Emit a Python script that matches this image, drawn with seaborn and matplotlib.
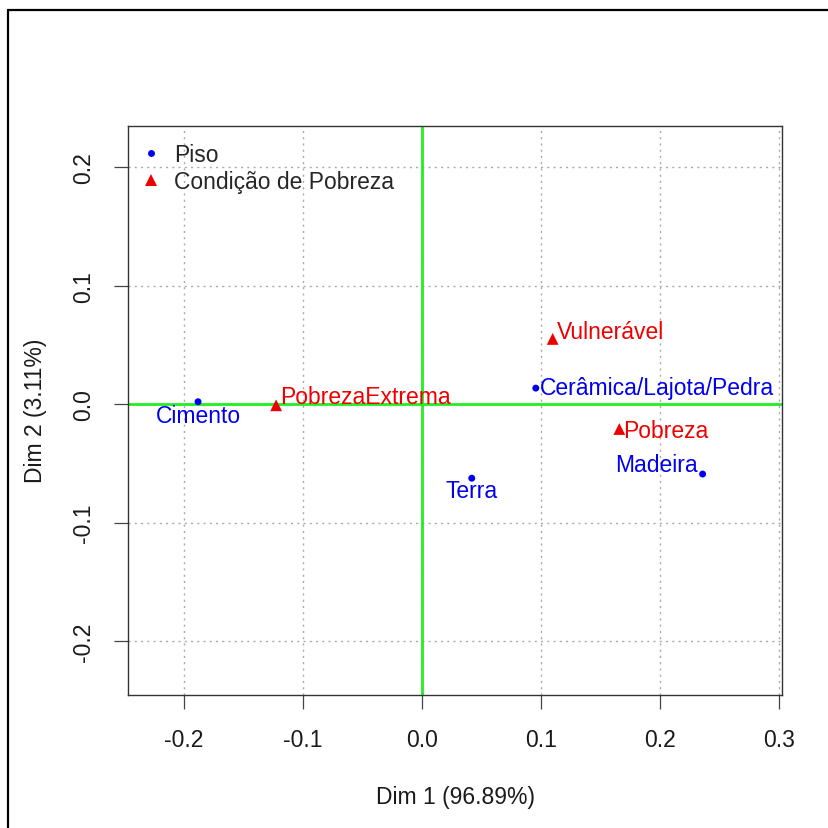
import matplotlib
matplotlib.use("Agg")
import matplotlib.pyplot as plt
import seaborn as sns
import pandas as pd
from matplotlib.lines import Line2D

# data
piso_names = ["Cimento", "Cerâmica/Lajota/Pedra", "Madeira", "Terra"]
piso_dim1 = [-0.188, 0.0958, 0.236, 0.042]
piso_dim2 = [0.002, 0.0135, -0.059, -0.0625]

pob_names = ["PobrezaExtrema", "Vulnerável", "Pobreza"]
pob_dim1 = [-0.1224, 0.110, 0.166]
pob_dim2 = [-0.001, 0.055, -0.021]

group_labels = ["Piso", "Condição de Pobreza"]
xticks = [-0.2, -0.1, 0.0, 0.1, 0.2, 0.3]
yticks = [-0.2, -0.1, 0.0, 0.1, 0.2]
xlabel = "Dim 1 (96.89%)"
ylabel = "Dim 2 (3.11%)"

df = pd.DataFrame({
    "name": piso_names + pob_names,
    "Dim1": piso_dim1 + pob_dim1,
    "Dim2": piso_dim2 + pob_dim2,
    "group": [group_labels[0]] * len(piso_names) + [group_labels[1]] * len(pob_names),
})

sns.set_style("white")
plt.rcParams['font.family'] = ['Liberation Sans', 'DejaVu Sans']

FS = 16.5
fig = plt.figure(figsize=(8.29, 8.29), dpi=100)
ax = fig.add_axes([0.1548, 0.161, 0.943 - 0.1548, 0.8472 - 0.161])

colors = {group_labels[0]: "#0000ee", group_labels[1]: "#ee0000"}

# grid
for t in xticks:
    ax.axvline(t, color="#aaaaaa", lw=1, ls=(0, (1.5, 3)), zorder=0)
for t in yticks:
    ax.axhline(t, color="#aaaaaa", lw=1, ls=(0, (1.5, 3)), zorder=0)
ax.axhline(0, color="#22ee22", lw=2, zorder=1)
ax.axvline(0, color="#22ee22", lw=2, zorder=1)

sns.scatterplot(data=df[df.group == group_labels[0]], x="Dim1", y="Dim2", ax=ax,
                color=colors[group_labels[0]], marker="o", s=25, edgecolor="none",
                legend=False, zorder=3)
sns.scatterplot(data=df[df.group == group_labels[1]], x="Dim1", y="Dim2", ax=ax,
                color=colors[group_labels[1]], marker="^", s=72, edgecolor="none",
                legend=False, zorder=3)

# label offsets (points): (dx, dy to baseline, ha)
offsets = {
    "Cimento": (0, -14.6, "center"),
    "Cerâmica/Lajota/Pedra": (3, -4.3, "left"),
    "Madeira": (-3.4, 2.4, "right"),
    "Terra": (0, -13.7, "center"),
    "PobrezaExtrema": (3, 1.5, "left"),
    "Vulnerável": (3, 0.5, "left"),
    "Pobreza": (2.5, -6, "left"),
}
for _, r in df.iterrows():
    dx, dy, ha = offsets[r["name"]]
    ax.annotate(r["name"], (r["Dim1"], r["Dim2"]), xytext=(dx, dy),
                textcoords="offset points", ha=ha, va="baseline", fontsize=FS,
                color=colors[r["group"]], zorder=4)

ax.set_xlim(-0.2466, 0.3025)
ax.set_ylim(-0.245, 0.2349)
ax.set_xticks(xticks)
ax.set_xticklabels(["%.1f" % t for t in xticks])
ax.set_yticks(yticks)
ax.set_yticklabels(["%.1f" % t for t in yticks], rotation=90, va="center")
ax.tick_params(axis="both", which="both", direction="out", length=10, width=0.9,
               color="#444444", labelsize=FS, labelcolor="#1a1a1a", pad=14,
               bottom=True, left=True)
ax.set_xlabel(xlabel, fontsize=FS, color="#1a1a1a", labelpad=24.5)
ax.set_ylabel(ylabel, fontsize=FS, color="#1a1a1a", labelpad=18)
for s in ax.spines.values():
    s.set_color("#333333")
    s.set_linewidth(1)

handles = [
    Line2D([], [], marker="o", color=colors[group_labels[0]], ls="none", markersize=5,
           markeredgewidth=0),
    Line2D([], [], marker="^", color=colors[group_labels[1]], ls="none", markersize=8.5,
           markeredgewidth=0),
]
ax.legend(handles, group_labels, loc="upper left", frameon=False, fontsize=FS,
          handletextpad=0.74, labelspacing=0.2, borderpad=0.4, borderaxespad=0.35,
          handlelength=0.52)

# outer frame
fig.add_artist(Line2D([8.5 / 829, 8.5 / 829], [1 - 10.5 / 829, 0], color="black", lw=1.6,
                      transform=fig.transFigure))
fig.add_artist(Line2D([8.5 / 829, 1], [1 - 10.5 / 829, 1 - 10.5 / 829], color="black", lw=1.6,
                      transform=fig.transFigure))

fig.savefig("out.png", dpi=100, facecolor="white")
